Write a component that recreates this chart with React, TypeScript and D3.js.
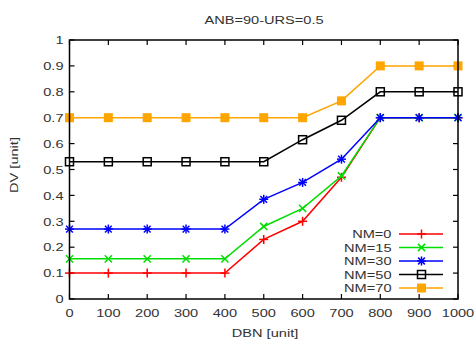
import React, { useEffect, useRef } from 'react';
import * as d3 from 'd3';

const dbn = [0, 100, 200, 300, 400, 500, 600, 700, 800, 900, 1000];
const nm0 = [0.1, 0.1, 0.1, 0.1, 0.1, 0.23, 0.3, 0.47, 0.7, 0.7, 0.7];
const nm15 = [0.155, 0.155, 0.155, 0.155, 0.155, 0.28, 0.35, 0.475, 0.7, 0.7, 0.7];
const nm30 = [0.27, 0.27, 0.27, 0.27, 0.27, 0.385, 0.45, 0.54, 0.7, 0.7, 0.7];
const nm50 = [0.53, 0.53, 0.53, 0.53, 0.53, 0.53, 0.615, 0.69, 0.8, 0.8, 0.8];
const nm70 = [0.7, 0.7, 0.7, 0.7, 0.7, 0.7, 0.7, 0.765, 0.9, 0.9, 0.9];
const seriesNames = ['NM=0', 'NM=15', 'NM=30', 'NM=50', 'NM=70'];
const yTicks = [0, 0.1, 0.2, 0.3, 0.4, 0.5, 0.6, 0.7, 0.8, 0.9, 1];

const colors = ['#ff0000', '#00dd00', '#0000ff', '#000000', '#ffa500'];
const markers = ['plus', 'cross', 'star', 'square', 'filled'];
const font = "'Liberation Sans', Arial, sans-serif";
const textColor = '#333';
const stretch = 1.27; // the reference text is wider than Arial

// stretched label: g at (x,y), optional rotation, text anchored as asked
function label(parent: any, x: number, y: number, txt: string, anchor: string, rot = 0) {
  parent.append('g')
    .attr('transform', `translate(${x},${y}) rotate(${rot}) scale(${stretch},1)`)
    .append('text').attr('text-anchor', anchor)
    .style('font-family', font).style('font-size', '11.5px').attr('fill', textColor)
    .text(txt);
}

// draws one gnuplot-ish point symbol at (x, y)
function drawMarker(g: any, kind: string, x: number, y: number, color: string) {
  const s = 4.5;
  const line = (x1: number, y1: number, x2: number, y2: number) =>
    g.append('line').attr('x1', x1).attr('y1', y1).attr('x2', x2).attr('y2', y2)
      .attr('stroke', color).attr('stroke-width', 1.5);
  if (kind === 'plus' || kind === 'star') {
    line(x - s, y, x + s, y);
    line(x, y - s, x, y + s);
  }
  if (kind === 'cross' || kind === 'star') {
    const d = kind === 'star' ? s * 0.75 : s * 0.8;
    line(x - d, y - d, x + d, y + d);
    line(x - d, y + d, x + d, y - d);
  }
  if (kind === 'square') {
    g.append('rect').attr('x', x - 4).attr('y', y - 4).attr('width', 8).attr('height', 8)
      .attr('fill', 'none').attr('stroke', color).attr('stroke-width', 1.5);
  }
  if (kind === 'filled') {
    g.append('rect').attr('x', x - 4.5).attr('y', y - 4.5).attr('width', 9).attr('height', 9)
      .attr('fill', color);
  }
}

export default function App() {
  const ref = useRef<SVGSVGElement>(null);

  useEffect(() => {
    const svg = d3.select(ref.current);
    svg.selectAll('*').remove();

    const left = 69.5, right = 458, top = 40, bottom = 299;
    const x = d3.scaleLinear().domain([0, 1000]).range([left, right]);
    const y = d3.scaleLinear().domain([0, 1]).range([bottom, top]);

    svg.append('rect').attr('width', 476).attr('height', 345).attr('fill', '#fff');

    // title and axis labels
    label(svg, 264, 23.5, 'ANB=90-URS=0.5', 'middle');
    label(svg, 265, 336.5, 'DBN [unit]', 'middle');
    label(svg, 17.5, 165, 'DV [unit]', 'middle', -90);

    // ticks (inward, on all four sides)
    const tk = 5;
    const ticks = svg.append('g').attr('stroke', '#000').attr('stroke-width', 1.2);
    dbn.forEach(v => {
      ticks.append('line').attr('x1', x(v)).attr('x2', x(v)).attr('y1', bottom).attr('y2', bottom - tk);
      ticks.append('line').attr('x1', x(v)).attr('x2', x(v)).attr('y1', top).attr('y2', top + tk);
    });
    yTicks.forEach(v => {
      ticks.append('line').attr('x1', left).attr('x2', left + tk).attr('y1', y(v)).attr('y2', y(v));
      ticks.append('line').attr('x1', right).attr('x2', right - tk).attr('y1', y(v)).attr('y2', y(v));
    });

    dbn.forEach(d => label(svg, x(d), 316.5, String(d), 'middle'));
    yTicks.forEach(d => label(svg, 63.5, y(d) + 4.2, String(d), 'end'));

    // series
    const allSeries = [nm0, nm15, nm30, nm50, nm70];
    const lineGen = d3.line<number>().x((d, i) => x(dbn[i])).y(d => y(d));
    allSeries.forEach((vals, si) => {
      const g = svg.append('g');
      g.append('path').attr('d', lineGen(vals) as string).attr('fill', 'none')
        .attr('stroke', colors[si]).attr('stroke-width', 1.5);
      vals.forEach((v, i) => drawMarker(g, markers[si], x(dbn[i]), y(v), colors[si]));
    });

    // legend
    const legY = [234, 247.5, 261, 274.5, 288];
    seriesNames.forEach((name, si) => {
      const g = svg.append('g');
      label(g, 391.5, legY[si] + 4.2, name, 'end');
      g.append('line').attr('x1', 399).attr('x2', 443).attr('y1', legY[si]).attr('y2', legY[si])
        .attr('stroke', colors[si]).attr('stroke-width', 1.5);
      drawMarker(g, markers[si], 421.5, legY[si], colors[si]);
    });

    // frame
    svg.append('rect').attr('x', left).attr('y', top).attr('width', right - left).attr('height', bottom - top)
      .attr('fill', 'none').attr('stroke', '#000').attr('stroke-width', 1.5);
  }, []);

  return (
    <svg ref={ref} width={476} height={345}
      style={{ position: 'absolute', left: 0, top: 0, display: 'block' }} />
  );
}
